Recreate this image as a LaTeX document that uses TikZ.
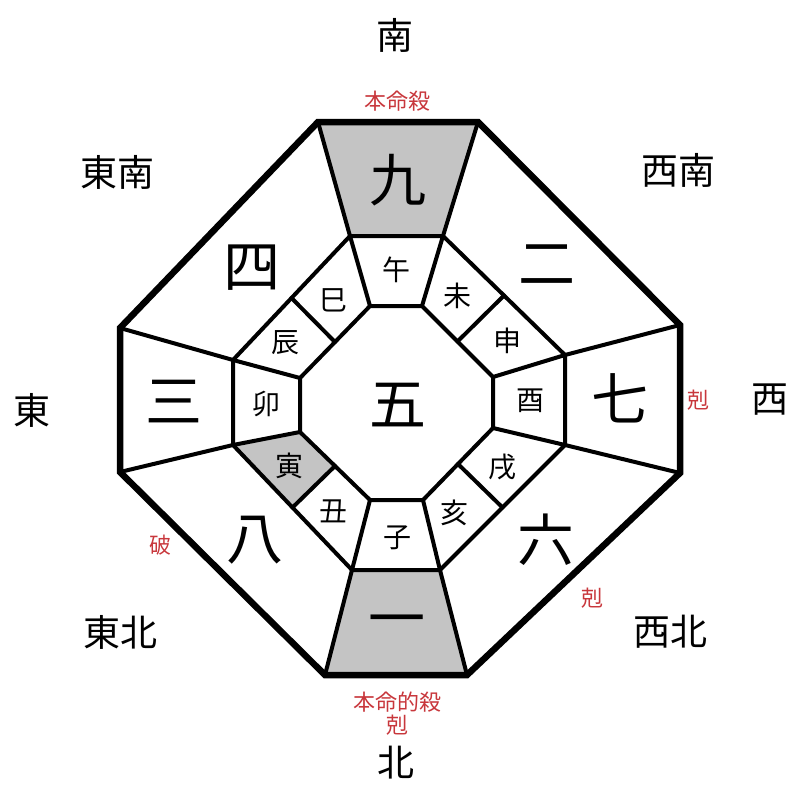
\documentclass[tikz,border=0pt]{standalone}
\usepackage{fontspec}
\usetikzlibrary{calc}
\newfontfamily\cjk{Noto Sans CJK JP}
\definecolor{cellgray}{RGB}{196,196,196}
\definecolor{redtxt}{RGB}{200,55,60}
\tikzset{
  thinline/.style={line width=4pt, line join=miter, line cap=round},
  outerline/.style={line width=6.5pt, line join=miter},
  dir/.style={font=\cjk\fontsize{37}{37}\selectfont, inner sep=0pt},
  num/.style={font=\cjk\fontsize{57}{57}\selectfont, inner sep=0pt},
  br/.style={font=\cjk\fontsize{28}{28}\selectfont, inner sep=0pt},
  note/.style={font=\cjk\fontsize{22}{22}\selectfont, text=redtxt, inner sep=0pt},
}
\begin{document}
\begin{tikzpicture}[x=1pt,y=-1pt]
\useasboundingbox (0,0) rectangle (800,800);
% outer octagon
\coordinate (O1) at (318,122); \coordinate (O2) at (478,122);
\coordinate (O3) at (680,325); \coordinate (O4) at (680,473);
\coordinate (O5) at (467,675); \coordinate (O6) at (325,675);
\coordinate (O7) at (120,472); \coordinate (O8) at (120,328);
% middle octagon
\coordinate (M1) at (350,236); \coordinate (M2) at (443,236);
\coordinate (M3) at (565,355); \coordinate (M4) at (565,445);
\coordinate (M5) at (440,570); \coordinate (M6) at (352,570);
\coordinate (M7) at (233,445); \coordinate (M8) at (233,360);
% inner octagon
\coordinate (I1) at (370,306); \coordinate (I2) at (422,306);
\coordinate (I3) at (493,377); \coordinate (I4) at (493,428);
\coordinate (I5) at (423,500); \coordinate (I6) at (370,500);
\coordinate (I7) at (300,432); \coordinate (I8) at (300,378);
% midpoints of diagonal edges
\coordinate (A12) at ($(M2)!0.5!(M3)$);
\coordinate (A34) at ($(M4)!0.5!(M5)$);
\coordinate (A56) at ($(M6)!0.5!(M7)$);
\coordinate (A78) at ($(M8)!0.5!(M1)$);
\coordinate (B12) at ($(I2)!0.5!(I3)$);
\coordinate (B34) at ($(I4)!0.5!(I5)$);
\coordinate (B56) at ($(I6)!0.5!(I7)$);
\coordinate (B78) at ($(I8)!0.5!(I1)$);
% gray cells
\fill[cellgray] (O1) -- (O2) -- (M2) -- (M1) -- cycle;
\fill[cellgray] (M6) -- (M5) -- (O5) -- (O6) -- cycle;
\fill[cellgray] (M7) -- (I7) -- (B56) -- (A56) -- cycle;
% rings
\draw[thinline] (M1) -- (M2) -- (M3) -- (M4) -- (M5) -- (M6) -- (M7) -- (M8) -- cycle;
\draw[thinline] (I1) -- (I2) -- (I3) -- (I4) -- (I5) -- (I6) -- (I7) -- (I8) -- cycle;
\foreach \k in {1,...,8} {
  \draw[thinline] (O\k) -- (M\k);
  \draw[thinline] (M\k) -- (I\k);
}
\draw[thinline] (A12) -- (B12);
\draw[thinline] (A34) -- (B34);
\draw[thinline] (A56) -- (B56);
\draw[thinline] (A78) -- (B78);
\draw[outerline] (O1) -- (O2) -- (O3) -- (O4) -- (O5) -- (O6) -- (O7) -- (O8) -- cycle;
% numbers
\node[num] (n9) at (398,180) {九};
\node[num] (n2) at (547,265) {二};
\node[num] (n7) at (620,398) {七};
\node[num] (n6) at (546,540) {六};
\node[num] (n1) at (397,627) {一};
\node[num] (n8) at (255,540) {八};
\node[num] (n3) at (174,402) {三};
\node[num] (n4) at (252,268) {四};
\node[num] (n5) at (398,405) {五};
% branches
\node[br] (b1) at (396,270) {午};
\node[br] (b2) at (457,296) {未};
\node[br] (b3) at (507,341) {申};
\node[br] (b4) at (530,401) {酉};
\node[br] (b5) at (502,467) {戌};
\node[br] (b6) at (454,513) {亥};
\node[br] (b7) at (397,538) {子};
\node[br] (b8) at (333,511) {丑};
\node[br] (b9) at (289,466) {寅};
\node[br] (b10) at (266,404) {卯};
\node[br] (b11) at (285,343) {辰};
\node[br] (b12) at (333,300) {巳};
% directions
\node[dir] (dS) at (395,35) {南};
\node[dir] (dN) at (396,763) {北};
\node[dir] (dE) at (32,410) {東};
\node[dir] (dW) at (770,400) {西};
\node[dir] (dSE) at (117,172) {東南};
\node[dir] (dSW) at (678,170) {西南};
\node[dir] (dNE) at (120,632) {東北};
\node[dir] (dNW) at (670,632) {西北};
% notes
\node[note] (t1) at (397,101) {本命殺};
\node[note] (t2) at (397,702) {本命的殺};
\node[note] (t3) at (397,725) {剋};
\node[note] (t4) at (698,400) {剋};
\node[note] (t5) at (160,545) {破};
\node[note] (t6) at (592,598) {剋};
\end{tikzpicture}
\end{document}
